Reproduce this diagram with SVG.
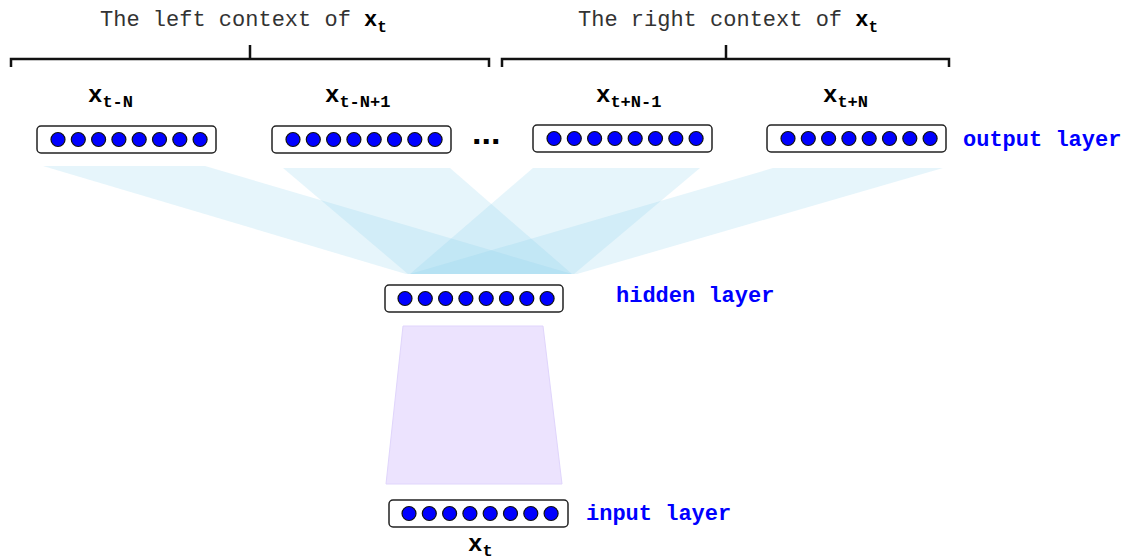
<svg xmlns="http://www.w3.org/2000/svg" xmlns:xlink="http://www.w3.org/1999/xlink" width="1128" height="559" viewBox="0 0 1128 559">
<style>
.box{fill:#fff;stroke:#222;stroke-width:1.5}
.n{fill:#0000ff;stroke:#111;stroke-width:1.2}
.title{font-family:"Liberation Mono",monospace;font-size:22px;fill:#333}
.bx{font-family:"Liberation Mono",monospace;font-weight:bold;fill:#000}
.lab{font-family:"Liberation Mono",monospace;font-weight:bold;font-size:22px;fill:#0000ff}
.fan{fill:#87ceeb;fill-opacity:0.21}
.br{fill:none;stroke:#111;stroke-width:2.5}
</style>
<defs>
<g id="neurons">
<circle class="n" cx="21" cy="0" r="7"/>
<circle class="n" cx="41.3" cy="0" r="7"/>
<circle class="n" cx="61.6" cy="0" r="7"/>
<circle class="n" cx="81.9" cy="0" r="7"/>
<circle class="n" cx="102.2" cy="0" r="7"/>
<circle class="n" cx="122.5" cy="0" r="7"/>
<circle class="n" cx="142.8" cy="0" r="7"/>
<circle class="n" cx="163.1" cy="0" r="7"/>
</g>
</defs>
<rect width="1128" height="559" fill="#fff"/>

<g id="connectors">
<polygon class="fan" points="43,166 205,166 572,274 406,274"/>
<polygon class="fan" points="283,168 450,168 572,274 408,274"/>
<polygon class="fan" points="533,168 700,168 574,274 410,274"/>
<polygon class="fan" points="773,168 943,168 577,274 410,274"/>
<polygon points="403,326 543,326 562,484 386,484" fill="#ece3fe" stroke="#e0d5fc" stroke-width="1"/>
</g>

<g id="left-context">
<path class="br" d="M11,67 V59 H489 V67 M250,59 V45"/>
<text class="title" x="100" y="26">The left context of <tspan class="bx">x</tspan><tspan class="bx" font-size="16" dy="6">t</tspan></text>
</g>
<g id="right-context">
<path class="br" d="M502,67 V59 H949 V67 M726,59 V45"/>
<text class="title" x="578" y="26">The right context of <tspan class="bx">x</tspan><tspan class="bx" font-size="16" dy="6">t</tspan></text>
</g>

<g id="out1">
<text class="bx" x="88" y="102" font-size="24">x<tspan font-size="17" dy="5">t-N</tspan></text>
<rect class="box" x="37" y="126" width="179" height="27" rx="4"/>
<use xlink:href="#neurons" href="#neurons" x="37" y="139.5"/>
</g>
<g id="out2">
<text class="bx" x="325" y="102" font-size="24">x<tspan font-size="17" dy="5">t-N+1</tspan></text>
<rect class="box" x="272" y="126" width="179" height="27" rx="4"/>
<use xlink:href="#neurons" href="#neurons" x="272" y="139.5"/>
</g>
<g id="ellipsis">
<text x="472" y="144" font-family="Liberation Sans,Arial,sans-serif" font-weight="bold" font-size="34" fill="#000">...</text>
</g>
<g id="out3">
<text class="bx" x="596" y="102" font-size="24">x<tspan font-size="17" dy="5">t+N-1</tspan></text>
<rect class="box" x="533" y="125" width="179" height="27" rx="4"/>
<use xlink:href="#neurons" href="#neurons" x="533" y="138.5"/>
</g>
<g id="out4">
<text class="bx" x="823" y="102" font-size="24">x<tspan font-size="17" dy="5">t+N</tspan></text>
<rect class="box" x="767" y="125" width="179" height="27" rx="4"/>
<use xlink:href="#neurons" href="#neurons" x="767" y="138.5"/>
<text class="lab" x="963" y="146">output layer</text>
</g>

<g id="hidden">
<rect class="box" x="385" y="285" width="178" height="27" rx="4"/>
<use xlink:href="#neurons" href="#neurons" x="384" y="298.5"/>
<text class="lab" x="616" y="302">hidden layer</text>
</g>

<g id="input">
<rect class="box" x="389" y="500" width="179" height="27" rx="4"/>
<use xlink:href="#neurons" href="#neurons" x="388" y="513.5"/>
<text class="lab" x="586" y="520">input layer</text>
<text class="bx" x="468" y="551" font-size="24">x<tspan font-size="17" dy="5">t</tspan></text>
</g>
</svg>
